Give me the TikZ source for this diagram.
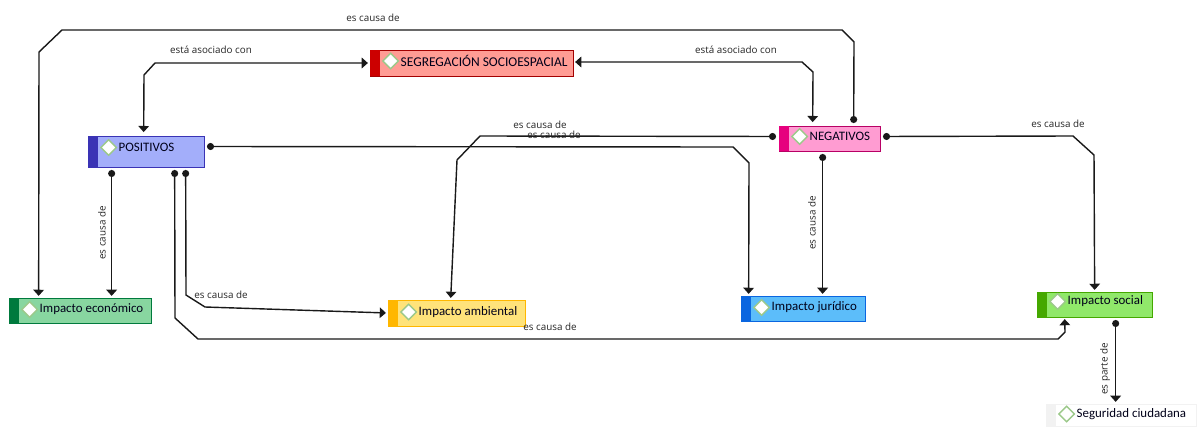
\documentclass[tikz,border=0pt]{standalone}
\usepackage{fontspec}
\setmainfont{Open Sans}
\newfontfamily\boxfont{Carlito}
\usepackage{xcolor}
\usetikzlibrary{shapes.geometric,arrows.meta,positioning,calc,fit}

\definecolor{segfill}{HTML}{FF9C94}
\definecolor{segdark}{HTML}{CC0000}
\definecolor{posfill}{HTML}{A3AEFA}
\definecolor{posdark}{HTML}{3A33B5}
\definecolor{negfill}{HTML}{FF9CD2}
\definecolor{negdark}{HTML}{E6007E}
\definecolor{ecofill}{HTML}{88D6A0}
\definecolor{ecodark}{HTML}{007A3D}
\definecolor{ambfill}{HTML}{FFE37A}
\definecolor{ambdark}{HTML}{FFB700}
\definecolor{jurfill}{HTML}{5CBDFA}
\definecolor{jurdark}{HTML}{0A66E0}
\definecolor{socfill}{HTML}{90E86A}
\definecolor{socdark}{HTML}{45A800}
\definecolor{markline}{HTML}{9CC98A}

\tikzset{
  itembox/.style={rectangle, draw, thin, inner sep=0pt},
  itemmark/.style={diamond, draw=markline, fill=white, line width=0.8pt, inner sep=0pt, minimum width=0.32cm, minimum height=0.32cm},
  itemtext/.style={inner sep=0pt, font=\boxfont\fontsize{7.35}{9}\selectfont, text=black!90!blue},
  linktext/.style={inner sep=0pt, font=\fontsize{5.6}{7}\selectfont, text=black!85},
  linkboth/.style={thick, black!90, {Triangle[width=6pt,length=3.5pt]}-{Triangle[width=6pt,length=3.5pt]}, shorten >=1pt, shorten <=2pt},
  linkdot/.style={thick, black!90, {Circle[length=4pt]}-{Triangle[width=6pt,length=3.5pt]}, shorten >=1pt, shorten <=1.5pt},
}

\begin{document}
\begin{tikzpicture}[x=0.02cm, y=-0.02cm]
  \useasboundingbox (0,0) rectangle (1199,426);

  % boxes
  \node[itembox, fill=segfill, draw=segdark!80!black, fit={(370,50) (573,76)}] (seg) {};
  \fill[segdark] (seg.south west) rectangle ($(seg.north west)+(10,0)$);
  \node[itemmark] (segmark) at ($(seg.west)+(21,-2)$) {};
  \node[itemtext, font=\boxfont\fontsize{7.65}{9}\selectfont, right=0.02cm of segmark] (segtext) {SEGREGACIÓN SOCIOESPACIAL};

  \node[itembox, fill=posfill, draw=posdark, fit={(88,136) (204,167)}] (pos) {};
  \fill[posdark] (pos.south west) rectangle ($(pos.north west)+(10,0)$);
  \node[itemmark] (posmark) at ($(pos.west)+(21,-4)$) {};
  \node[itemtext, right=0.02cm of posmark] (postext) {POSITIVOS};

  \node[itembox, fill=negfill, draw=negdark!80!black, fit={(779,126) (880,151)}] (neg) {};
  \fill[negdark] (neg.south west) rectangle ($(neg.north west)+(10,0)$);
  \node[itemmark] (negmark) at ($(neg.west)+(21,-2)$) {};
  \node[itemtext, right=0.02cm of negmark] (negtext) {NEGATIVOS};

  \node[itembox, fill=ecofill, draw=ecodark, fit={(9,298) (151,323)}] (eco) {};
  \fill[ecodark] (eco.south west) rectangle ($(eco.north west)+(10,0)$);
  \node[itemmark] (ecomark) at ($(eco.west)+(21,-1)$) {};
  \node[itemtext, right=0.02cm of ecomark] (ecotext) {Impacto económico};

  \node[itembox, fill=ambfill, draw=ambdark, fit={(388,300) (525,326)}] (amb) {};
  \fill[ambdark] (amb.south west) rectangle ($(amb.north west)+(10,0)$);
  \node[itemmark] (ambmark) at ($(amb.west)+(21,-1)$) {};
  \node[itemtext, right=0.02cm of ambmark] (ambtext) {Impacto ambiental};

  \node[itembox, fill=jurfill, draw=jurdark, fit={(741,296) (865,321)}] (jur) {};
  \fill[jurdark] (jur.south west) rectangle ($(jur.north west)+(10,0)$);
  \node[itemmark] (jurmark) at ($(jur.west)+(21,-1)$) {};
  \node[itemtext, right=0.02cm of jurmark] (jurtext) {Impacto jurídico};

  \node[itembox, fill=socfill, draw=socdark, fit={(1037,292) (1152,317)}] (soc) {};
  \fill[socdark] (soc.south west) rectangle ($(soc.north west)+(10,0)$);
  \node[itemmark] (socmark) at ($(soc.west)+(21,-3)$) {};
  \node[itemtext, right=0.02cm of socmark] (soctext) {Impacto social};

  \node[itembox, fill=white, draw=black!5, fit={(1046,404) (1196,426)}] (seg2) {};
  \fill[black!5] (seg2.south west) rectangle ($(seg2.north west)+(10,0)$);
  \node[itemmark] (seg2mark) at ($(seg2.west)+(21,-1)$) {};
  \node[itemtext, right=0.02cm of seg2mark] (seg2text) {Seguridad ciudadana};

  % connectors
  \draw[linkdot] ($(neg.north west)+(75,0)$) -- (854,42) -- (842,30) -- (62,30) -- (39,52) -- ($(eco.north west)+(30,0)$);
  \draw[linkboth] ($(pos.north west)+(56,0)$) -- (144,75) -- (155,63) -- (seg.west |- 0,63);
  \draw[linkboth] ($(neg.north west)+(34,0)$) -- (813,72) -- (802,62) -- (seg.east |- 0,62);
  \draw[linkdot] ($(neg.west)+(0,-2)$) -- (480,136) -- (457,160) -- ($(amb.north west)+(63,0)$);
  \draw[linkdot] ($(pos.east)+(0,-5)$) -- (733,147) -- (749,163) -- ($(jur.north west)+(8,0)$);
  \draw[linkdot] ($(neg.east)+(0,-2)$) -- (1073,136) -- (1094,155) -- ($(soc.north west)+(58,0)$);
  \draw[linkdot] ($(neg.south west)+(44,0)$) -- ($(jur.north west)+(82,0)$);
  \draw[linkdot] ($(pos.south west)+(24,0)$) -- ($(eco.north west)+(103,0)$);
  \draw[linkdot] ($(pos.south west)+(98,0)$) -- (186,295) -- (205,307) -- (amb.west);
  \draw[linkdot] ($(pos.south west)+(87,0)$) -- (175,318) -- (198,339) -- (1058,339) -- (1065,332) -- ($(soc.south west)+(28,0)$);
  \draw[linkdot] ($(soc.south west)+(79,0)$) -- ($(seg2.north west)+(70,0)$);

  % labels
  \node[linktext] (t1) at (373,18) {es causa de};
  \node[linktext] (t2) at (211,50) {está asociado con};
  \node[linktext] (t3) at (736,50) {está asociado con};
  \node[linktext] (t4) at (540,125) {es causa de};
  \node[linktext] (t5) at (554,135) {es causa de};
  \node[linktext] (t6) at (1058,124) {es causa de};
  \node[linktext] (t7) at (221,295) {es causa de};
  \node[linktext] (t8) at (550,327) {es causa de};
  \node[linktext, rotate=90] (t9) at (102,233) {es causa de};
  \node[linktext, rotate=90] (t10) at (812,223) {es causa de};
  \node[linktext, rotate=90] (t11) at (1105,369) {es parte de};
\end{tikzpicture}
\end{document}
